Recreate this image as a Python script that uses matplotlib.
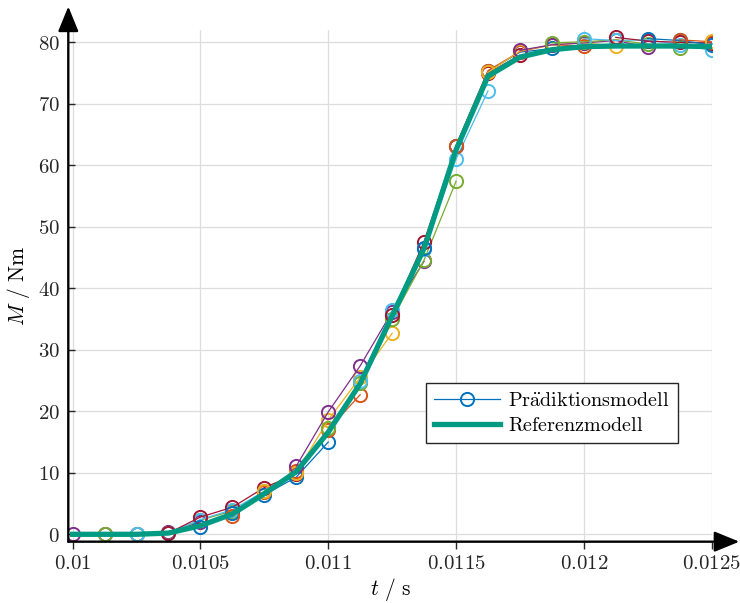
import matplotlib
matplotlib.use("Agg")
import matplotlib.pyplot as plt
from matplotlib.lines import Line2D

plt.rcParams['mathtext.fontset'] = 'cm'
plt.rcParams['font.family'] = ['DejaVu Serif']

# zeitachse (abtastschritte)
t = [0.01, 0.010125, 0.01025, 0.010375, 0.0105, 0.010625, 0.01075, 0.010875,
     0.011, 0.011125, 0.01125, 0.011375, 0.0115, 0.011625, 0.01175, 0.011875,
     0.012, 0.012125, 0.01225, 0.012375, 0.0125]

# referenzmodell
ref = [0, 0, 0, 0.2, 1.4, 3.3, 6.6, 10.2, 16.6, 24.5, 35.5, 46.5, 62.5, 74.5,
       77.6, 78.8, 79.3, 79.4, 79.4, 79.4, 79.3]

# prädiktionen: jede startet bei index k
pred_start = list(range(21))
pred_values = [
    [0, 0, 0, 0.3, 2.0],
    [0, 0, 0.2, 2.3, 3.8],
    [0, 0.2, 2.4, 4.0, 7.0],
    [0.2, 2.8, 4.4, 7.6, 9.8],
    [1.2, 3.4, 6.4, 9.3, 15.0],
    [2.9, 6.8, 10.3, 17.0, 22.7],
    [7.1, 10.0, 18.6, 25.5, 32.7],
    [11.1, 19.9, 27.4, 36.2, 44.4],
    [17.3, 24.6, 35.0, 44.6, 57.4],
    [25.0, 36.4, 46.4, 61.0, 72.1],
    [35.7, 47.6, 63.1, 75.0, 77.9],
    [46.6, 63.2, 75.3, 78.4, 79.0],
    [63.2, 75.4, 78.5, 79.6, 79.4],
    [75.1, 78.6, 79.6, 79.9, 79.4],
    [78.7, 79.6, 79.9, 80.3, 79.2],
    [79.9, 80.1, 80.4, 79.7, 79.0],
    [80.6, 80.3, 80.4, 79.6, 78.7],
    [80.8, 80.2, 80.0, 79.9],
    [80.6, 80.3, 79.6],
    [80.4, 80.1],
    [80.2],
]

xticks = [0.01, 0.0105, 0.011, 0.0115, 0.012, 0.0125]
xtick_labels = ['0.01', '0.0105', '0.011', '0.0115', '0.012', '0.0125']
yticks = [0, 10, 20, 30, 40, 50, 60, 70, 80]

matlab_colors = ['#0072BD', '#D95319', '#EDB120', '#7E2F8E',
                 '#77AC30', '#4DBEEE', '#A2142F']
ref_color = '#009B82'

fig = plt.figure(figsize=(7.4, 6.03), dpi=100)
ax = fig.add_axes([0.0923, 0.1017, 0.8694, 0.8485])

for k, vals in zip(pred_start, pred_values):
    c = matlab_colors[(k + 3) % 7]
    ax.plot(t[k:k + len(vals)], vals, color=c, linewidth=0.9, marker='o',
            markersize=9.5, markerfacecolor='none', markeredgewidth=1.4)

ax.plot(t, ref, color=ref_color, linewidth=3.8, solid_joinstyle='miter')

ax.set_xlim(0.009983, 0.0125)
ax.set_ylim(-1.2, 82)
ax.set_xticks(xticks)
ax.set_xticklabels(['$' + s + '$' for s in xtick_labels])
ax.set_yticks(yticks)
ax.set_yticklabels(['$%d$' % v for v in yticks])
ax.tick_params(axis='both', labelsize=15, colors='#262626')
ax.tick_params(axis='x', direction='out', length=5, width=1, pad=4)
ax.tick_params(axis='y', direction='in', length=5, width=1, pad=6)
ax.grid(True, color='#dddddd', linewidth=0.9)
ax.set_axisbelow(True)

for s in ['top', 'right', 'left', 'bottom']:
    ax.spines[s].set_visible(False)

# achsen mit pfeilen
arrow = dict(arrowstyle='-|>,head_length=1.1,head_width=0.45', color='black',
             linewidth=1.7, shrinkA=0, shrinkB=0, mutation_scale=14)
ax.annotate('', xy=(0, 1.046), xytext=(0, 0), xycoords='axes fraction',
            textcoords='axes fraction', arrowprops=arrow, annotation_clip=False)
ax.annotate('', xy=(1.043, 0), xytext=(0, 0), xycoords='axes fraction',
            textcoords='axes fraction', arrowprops=arrow, annotation_clip=False)

ax.set_xlabel(r'$t\ /\ \mathrm{s}$', fontsize=15.5, labelpad=2)
ax.set_ylabel(r'$M\ /\ \mathrm{Nm}$', fontsize=15.5, labelpad=4)

handles = [
    Line2D([], [], color=matlab_colors[0], linewidth=0.9, marker='o',
           markersize=9.5, markerfacecolor='none', markeredgewidth=1.4),
    Line2D([], [], color=ref_color, linewidth=3.8),
]
leg = ax.legend(handles, [r'$\mathrm{Pr\ddot{a}diktionsmodell}$',
                          r'$\mathrm{Referenzmodell}$'],
                loc='upper left', bbox_to_anchor=(0.5555, 0.3096),
                borderaxespad=0, fontsize=14.5, fancybox=False, framealpha=1,
                edgecolor='#262626', handlelength=3.3, handletextpad=0.4,
                borderpad=0.4, labelspacing=0.3)
leg.get_frame().set_linewidth(1.0)

fig.savefig('out.png', dpi=100)
